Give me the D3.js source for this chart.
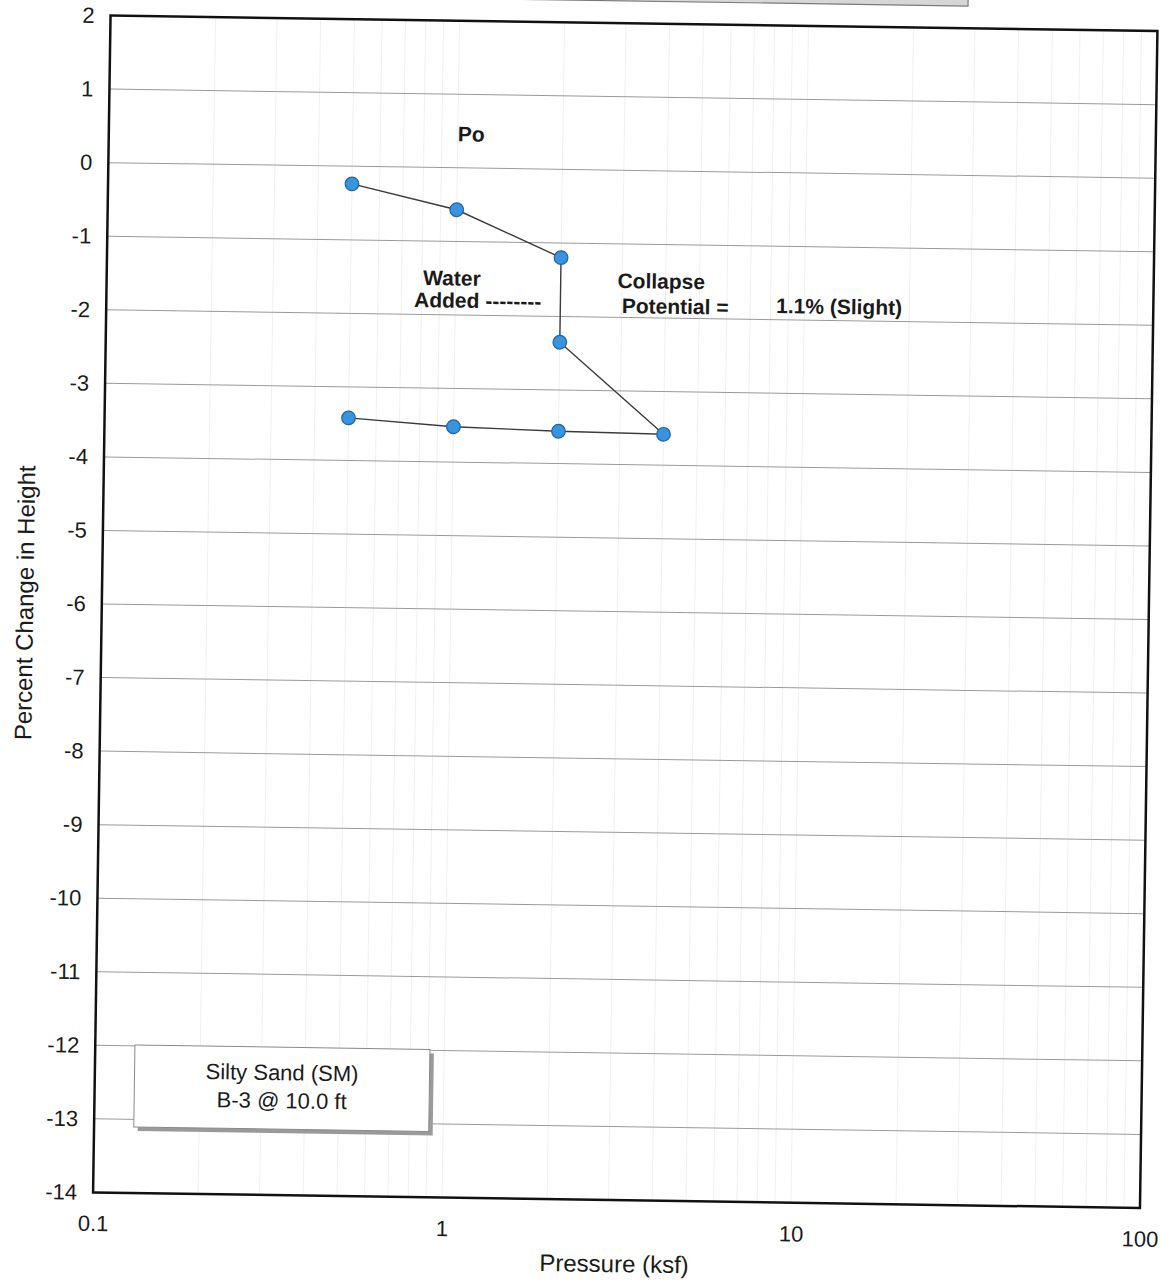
<!DOCTYPE html>
<html>
<head>
<meta charset="utf-8">
<script src="https://cdn.jsdelivr.net/npm/d3@7"></script>
<style>
  body { margin: 0; background: #fff; }
  text { font-family: "Liberation Sans", Arial, sans-serif; fill: #1a1a1a; }
</style>
</head>
<body>
<div id="chart"></div>
<script>
// consolidation / collapse test readings
var pressure = [0.5, 1, 2, 2, 4, 2, 1, 0.5];          // ksf
var heightChange = [-0.24, -0.57, -1.20, -2.35, -3.58, -3.56, -3.52, -3.42]; // %

var yTicks = d3.range(-14, 3);
var xTicks = [0.1, 1, 10, 100];

var notes = [
  { text: "Po", p: 1.0, v: 0.36 },
  { text: "Water", p: 0.807, v: -1.60 },
  { text: "Added --------", p: 0.762, v: -1.90 },
  { text: "Collapse", p: 2.91, v: -1.60 },
  { text: "Potential =", p: 3.0, v: -1.94 },
  { text: "1.1% (Slight)", p: 8.3, v: -1.91 }
];
var legendLines = ["Silty Sand (SM)", "B-3 @ 10.0 ft"];

var W = 1162, H = 1283;
var margin = { left: 101.75, top: 23.25 };
var width = 1047, height = 1177;

var svg = d3.select("#chart").append("svg")
    .attr("width", W)
    .attr("height", H);

// the scanned page is slightly skewed
var page = svg.append("g")
    .attr("transform", "rotate(0.85 625.25 611.75)");

// bottom of a cut-off header box
page.append("rect")
    .attr("x", 470).attr("y", -20)
    .attr("width", 489).attr("height", 21)
    .attr("fill", "#d6d6d6")
    .attr("stroke", "#7a7a7a")
    .attr("stroke-width", 1.2);

var g = page.append("g")
    .attr("transform", "translate(" + margin.left + "," + margin.top + ")");

var x = d3.scaleLog().domain([0.1, 100]).range([0, width]);
var y = d3.scaleLinear().domain([-14, 2]).range([height, 0]);

// faint log grid
g.append("g").selectAll("line")
    .data(x.ticks())
    .enter().append("line")
    .attr("x1", function(d) { return x(d); })
    .attr("x2", function(d) { return x(d); })
    .attr("y1", 0).attr("y2", height)
    .attr("stroke", "#f0f0f0")
    .attr("stroke-width", 1);

// horizontal grid
g.append("g").selectAll("line")
    .data(yTicks.filter(function(d) { return d > -14 && d < 2; }))
    .enter().append("line")
    .attr("x1", 0).attr("x2", width)
    .attr("y1", function(d) { return y(d); })
    .attr("y2", function(d) { return y(d); })
    .attr("stroke", "#9a9a9a")
    .attr("stroke-width", 1);

// axes
var yAxis = d3.axisLeft(y).tickValues(yTicks).tickSize(0).tickPadding(16)
    .tickFormat(function(d) { return String(d); });
var xAxis = d3.axisBottom(x).tickValues(xTicks).tickSize(0).tickPadding(23)
    .tickFormat(function(d) { return String(d); });

var yg = g.append("g").call(yAxis);
var xg = g.append("g").attr("transform", "translate(0," + height + ")").call(xAxis);
[yg, xg].forEach(function(a) {
  a.select(".domain").remove();
  a.selectAll("text")
      .attr("font-size", 22)
      .attr("font-family", '"Liberation Sans", Arial, sans-serif')
      .style("fill", "#1a1a1a");
});

// frame
g.append("rect")
    .attr("width", width).attr("height", height)
    .attr("fill", "none")
    .attr("stroke", "#111")
    .attr("stroke-width", 2.5);

// axis titles
g.append("text")
    .attr("x", width / 2 - 1.5)
    .attr("y", height + 72)
    .attr("text-anchor", "middle")
    .attr("font-size", 24)
    .text("Pressure (ksf)");

g.append("text")
    .attr("transform", "translate(-77," + (height / 2) + ") rotate(-90)")
    .attr("dy", "0.35em")
    .attr("text-anchor", "middle")
    .attr("font-size", 24)
    .text("Percent Change in Height");

// curve
var pts = pressure.map(function(p, i) { return { p: p, v: heightChange[i] }; });

var line = d3.line()
    .x(function(d) { return x(d.p); })
    .y(function(d) { return y(d.v); });

g.append("path")
    .datum(pts)
    .attr("d", line)
    .attr("fill", "none")
    .attr("stroke", "#3a3a3a")
    .attr("stroke-width", 1.4);

g.append("g").selectAll("circle")
    .data(pts)
    .enter().append("circle")
    .attr("cx", function(d) { return x(d.p); })
    .attr("cy", function(d) { return y(d.v); })
    .attr("r", 6.8)
    .attr("fill", "#3794dd")
    .attr("stroke", "#1c63a8")
    .attr("stroke-width", 1.2);

// annotations
g.append("g").selectAll("text")
    .data(notes)
    .enter().append("text")
    .attr("x", function(d) { return x(d.p); })
    .attr("y", function(d) { return y(d.v); })
    .attr("font-size", 21)
    .attr("font-weight", "bold")
    .text(function(d) { return d.text; });

// legend box
var lg = g.append("g").attr("transform", "translate(39.7,1029)");
lg.append("rect")
    .attr("x", 4).attr("y", 4)
    .attr("width", 295).attr("height", 82)
    .attr("fill", "#9a9a9a");
lg.append("rect")
    .attr("width", 295).attr("height", 82)
    .attr("fill", "#fff")
    .attr("stroke", "#8a8a8a")
    .attr("stroke-width", 1);
lg.selectAll("text.leg")
    .data(legendLines)
    .enter().append("text")
    .attr("class", "leg")
    .attr("x", 147.5)
    .attr("y", function(d, i) { return 33 + i * 28; })
    .attr("text-anchor", "middle")
    .attr("font-size", 22)
    .text(function(d) { return d; });
</script>
</body>
</html>
